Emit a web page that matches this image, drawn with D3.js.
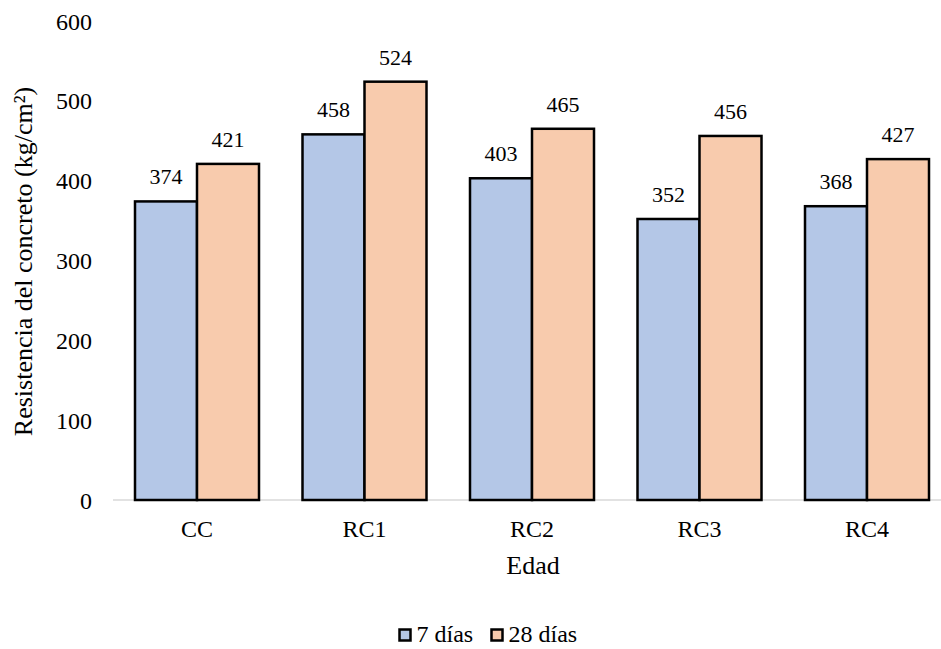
<!DOCTYPE html>
<html><head><meta charset="utf-8">
<script src="https://cdn.jsdelivr.net/npm/d3@7"></script>
<style>body{margin:0;background:#fff}svg{display:block}</style>
</head><body>
<script>
const categories = ["CC","RC1","RC2","RC3","RC4"];
const seriesNames = ["7 días","28 días"];
const days7 = [374,458,403,352,368];
const days28 = [421,524,465,456,427];
const yTicks = [0,100,200,300,400,500,600];
const colors = ["#B4C7E7","#F8CBAD"];

const W=941,H=649;
const FONT="'Liberation Serif', 'Times New Roman', serif";
const svg=d3.select("body").append("svg").attr("width",W).attr("height",H)
  .attr("font-family",FONT).attr("fill","#000");
const x=d3.scaleBand().domain(categories).range([113.25,950.75]).paddingInner(0).paddingOuter(0);
const y=d3.scaleLinear().domain([0,600]).range([500,21]);
const groupW=124;
const x1=d3.scaleBand().domain(seriesNames).range([0,groupW]);

svg.append("line").attr("x1",113).attr("x2",941).attr("y1",y(0)).attr("y2",y(0)).attr("stroke","#d9d9d9").attr("stroke-width",1.5);

svg.selectAll(".yt").data(yTicks).enter().append("text").attr("x",92).attr("y",d=>y(d)+8.5).attr("text-anchor","end").attr("font-size",24).text(d=>d);

const data=categories.map((c,i)=>({c,vals:[days7[i],days28[i]]}));
const g=svg.selectAll(".grp").data(data).enter().append("g").attr("transform",d=>`translate(${x(d.c)+x.bandwidth()/2-groupW/2},0)`);
g.selectAll("rect").data(d=>d.vals.map((v,j)=>({v,s:seriesNames[j],j}))).enter().append("rect")
 .attr("x",d=>x1(d.s)).attr("width",x1.bandwidth()).attr("y",d=>y(d.v)).attr("height",d=>y(0)-y(d.v))
 .attr("fill",d=>colors[d.j]).attr("stroke","#000").attr("stroke-width",2.5);
g.selectAll(".lbl").data(d=>d.vals.map((v,j)=>({v,s:seriesNames[j]}))).enter().append("text")
 .attr("x",d=>x1(d.s)+x1.bandwidth()/2).attr("y",d=>y(d.v)-17).attr("text-anchor","middle").attr("font-size",22).text(d=>d.v);

svg.selectAll(".xl").data(categories).enter().append("text").attr("x",d=>x(d)+x.bandwidth()/2).attr("y",537).attr("text-anchor","middle").attr("font-size",24).text(d=>d);

svg.append("text").attr("x",533).attr("y",574).attr("text-anchor","middle").attr("font-size",26).text("Edad");
svg.append("text").attr("transform","translate(32,261.5) rotate(-90)").attr("text-anchor","middle").attr("font-size",26).text("Resistencia del concreto (kg/cm²)");

const leg=[{n:seriesNames[0],x:399.5},{n:seriesNames[1],x:491.5}];
leg.forEach((l,i)=>{
  svg.append("rect").attr("x",l.x).attr("y",629.5).attr("width",11).attr("height",11).attr("fill",colors[i]).attr("stroke","#000").attr("stroke-width",2.5);
  svg.append("text").attr("x",l.x+17).attr("y",641.5).attr("font-size",24).text(l.n);
});
</script>
</body></html>
